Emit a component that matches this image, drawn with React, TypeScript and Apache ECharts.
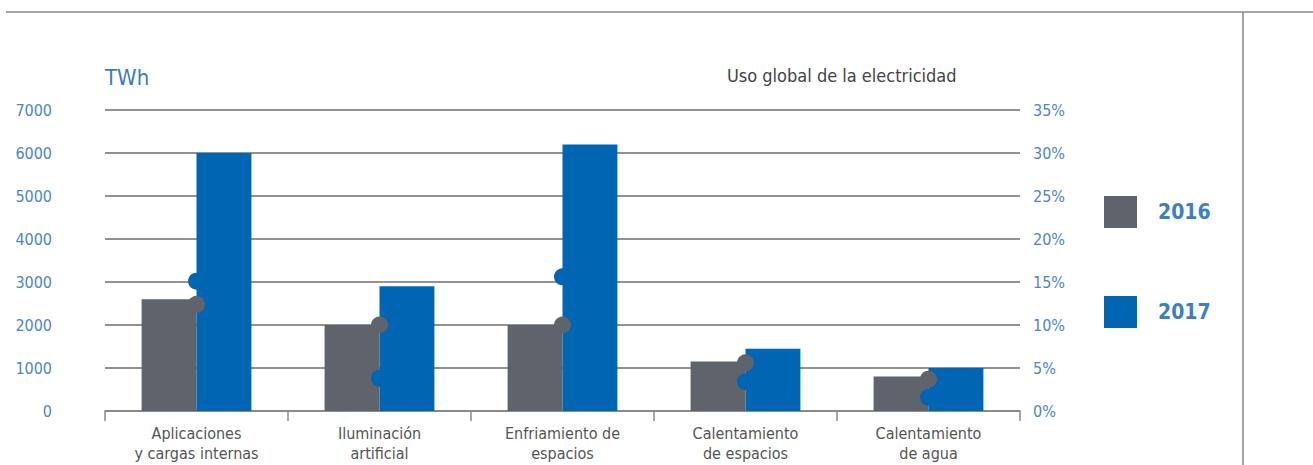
import React, { useEffect, useRef } from "react";
import * as echarts from "echarts";

const categories = [
  "Aplicaciones\ny cargas internas",
  "Iluminación\nartificial",
  "Enfriamiento de\nespacios",
  "Calentamiento\nde espacios",
  "Calentamiento\nde agua",
];
const twh2016 = [2600, 2000, 2000, 1150, 800];
const twh2017 = [6000, 2900, 6200, 1450, 1000];
const share2016 = [12.4, 10, 10, 5.6, 3.7];
const share2017 = [15.1, 3.8, 15.6, 3.4, 1.6];
const leftTicks = { min: 0, max: 7000, interval: 1000 };
const rightTicks = { min: 0, max: 35, interval: 5 };

const FONT = "'Liberation Sans Narrow', 'DejaVu Sans Condensed', 'Roboto', sans-serif";
const GRAY = "#5f636b";
const BLUE = "#0066b3";
const LABEL_BLUE = "#4a86c8";

export default function App() {
  const ref = useRef<HTMLDivElement>(null);
  useEffect(() => {
    if (!ref.current) return;
    const chart = echarts.init(ref.current, undefined, { renderer: "svg" });
    chart.setOption({
      animation: false,
      textStyle: { fontFamily: FONT },
      grid: { left: 105, right: 293, top: 110, bottom: 54, containLabel: false },
      legend: {
        data: ["2016", "2017"],
        orient: "vertical",
        left: 1099,
        top: 191,
        itemWidth: 33,
        itemHeight: 32,
        itemGap: 68,
        icon: "rect",
        textStyle: { fontFamily: FONT, fontSize: 21, fontWeight: "bold", color: "#3d7fc4", padding: [0, 0, 0, 16] },
        selectedMode: false,
      },
      graphic: [
        { type: "line", shape: { x1: 6, y1: 12, x2: 1313, y2: 12 }, style: { stroke: "#8a8a8a", lineWidth: 1.5 } },
        { type: "line", shape: { x1: 1243, y1: 12, x2: 1243, y2: 465 }, style: { stroke: "#8a8a8a", lineWidth: 1.5 } },
        {
          type: "text",
          left: 105,
          top: 66,
          style: { text: "TWh", fontFamily: FONT, fontSize: 22, fill: "#3b7bbf" },
        },
        {
          type: "text",
          left: 727,
          top: 66,
          style: { text: "Uso global de la electricidad", fontFamily: FONT, fontSize: 18, fill: "#444" },
        },
      ],
      xAxis: {
        type: "category",
        data: categories,
        boundaryGap: true,
        axisLine: { lineStyle: { color: "#888", width: 1.5 } },
        axisTick: { show: true, length: 10, lineStyle: { color: "#888", width: 1.5 } },
        axisLabel: { interval: 0, fontFamily: FONT, fontSize: 16, color: "#555", lineHeight: 20, margin: 12 },
      },
      yAxis: [
        {
          type: "value",
          ...leftTicks,
          axisLine: { show: false },
          axisTick: { show: false },
          axisLabel: { fontFamily: FONT, fontSize: 16, color: LABEL_BLUE, margin: 53, formatter: (v: number) => String(v) },
          splitLine: { lineStyle: { color: "#6e6e6e", width: 1.5 } },
        },
        {
          type: "value",
          ...rightTicks,
          position: "right",
          axisLine: { show: false },
          axisTick: { show: false },
          axisLabel: { fontFamily: FONT, fontSize: 16, color: LABEL_BLUE, margin: 13, formatter: "{value}%" },
          splitLine: { show: false },
        },
      ],
      series: [
        { name: "2016", type: "bar", data: twh2016, barWidth: "30%", barGap: "0%", itemStyle: { color: GRAY }, z: 2 },
        { name: "2017", type: "bar", data: twh2017, barWidth: "30%", barGap: "0%", itemStyle: { color: BLUE }, z: 2 },
        {
          name: "share2016",
          type: "scatter",
          yAxisIndex: 1,
          data: share2016,
          symbol: "circle",
          symbolSize: 17,
          itemStyle: { color: GRAY, opacity: 1 },
          z: 5,
        },
        {
          name: "share2017",
          type: "scatter",
          yAxisIndex: 1,
          data: share2017,
          symbol: "circle",
          symbolSize: 17,
          itemStyle: { color: BLUE, opacity: 1 },
          z: 5,
        },
      ],
    });
    return () => chart.dispose();
  }, []);
  return (
    <div
      ref={ref}
      style={{ position: "fixed", left: 0, top: 0, width: 1313, height: 465, background: "#fff" }}
    />
  );
}
